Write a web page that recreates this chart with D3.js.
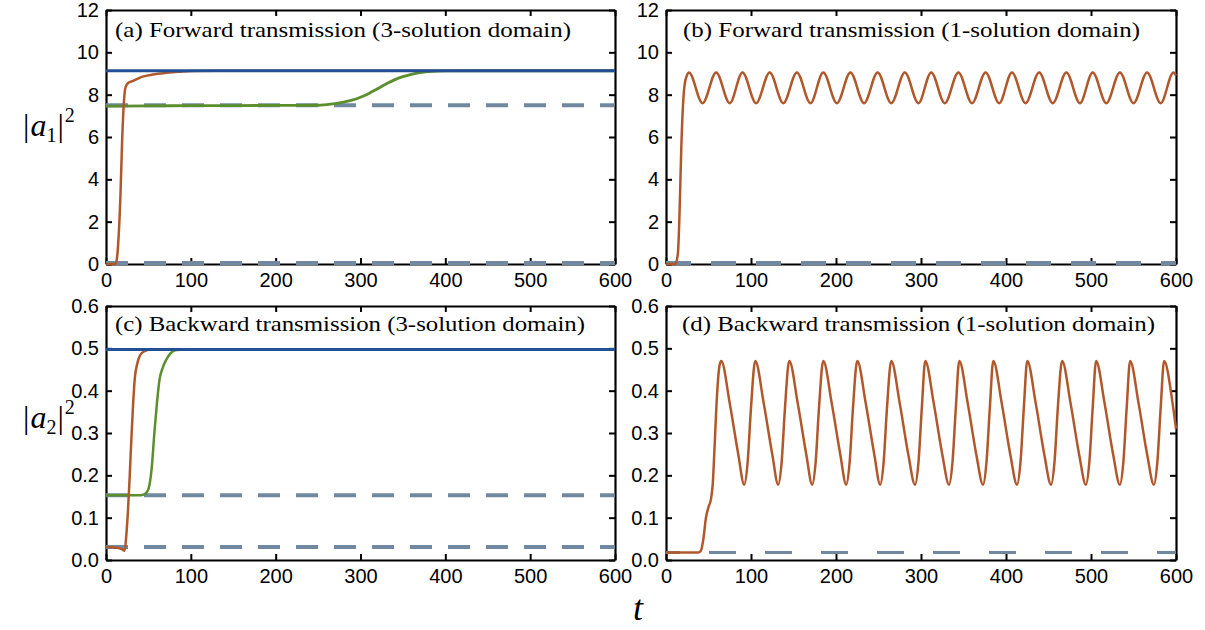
<!DOCTYPE html>
<html><head><meta charset="utf-8">
<script src="https://cdn.jsdelivr.net/npm/d3@7"></script>
<style>body{margin:0;background:#fff}</style>
</head><body>
<svg id="chart" width="1205" height="630"></svg>
<script>
// ---------- shared axis data ----------
const tTicks = [0, 100, 200, 300, 400, 500, 600];
const yTicksForward = [0, 2, 4, 6, 8, 10, 12];
const yTicksBackward = [0, 0.1, 0.2, 0.3, 0.4, 0.5, 0.6];
const titles = [
  "(a) Forward transmission (3-solution domain)",
  "(b) Forward transmission (1-solution domain)",
  "(c) Backward transmission (3-solution domain)",
  "(d) Backward transmission (1-solution domain)"
];

// ---------- panel (a) ----------
const aBlue = [[0, 9.13], [600, 9.13]];
const aDashHigh = [[0, 7.5], [600, 7.5]];
const aDashLow = [[0, 0.05], [600, 0.05]];
const aOrange = [[0,0],[11,0],[13,0.3],[15,1.4],[17,3.2],[19,5.8],[21,7.6],[23,8.35],[26,8.55],[32,8.65],[43,8.85],[55,8.95],[71,9.03],[85,9.08],[102,9.12],[130,9.13],[600,9.13]];
const aGreen = [[0,7.46],[50,7.47],[100,7.48],[200,7.49],[250,7.5],[265,7.55],[280,7.65],[290,7.74],[300,7.88],[310,8.06],[320,8.28],[330,8.5],[340,8.7],[350,8.85],[360,8.96],[370,9.04],[385,9.1],[400,9.12],[430,9.13],[600,9.13]];

// ---------- panel (b) ----------
const bDash = [[0, 0.05], [600, 0.05]];
const bOrange = [[0,0],[11,0],[14,0.5],[16,2.5],[18,5.5],[20,7.5],[22,8.5],[25,8.95],[27,9.05],[43,7.6],[59,9.05],[75,7.6],[90,9.05],[106,7.6],[122,9.05],[138,7.6],[154,9.05],[170,7.6],[185,9.05],[201,7.6],[217,9.05],[233,7.6],[249,9.05],[265,7.6],[281,9.05],[297,7.6],[312,9.05],[328,7.6],[344,9.05],[360,7.6],[376,9.05],[392,7.6],[407,9.05],[423,7.6],[439,9.05],[455,7.6],[471,9.05],[487,7.6],[502,9.05],[518,7.6],[534,9.05],[550,7.6],[566,9.05],[582,7.6],[597,9.05],[600,8.9]];

// ---------- panel (c) ----------
const cBlue = [[0, 0.497], [600, 0.497]];
const cDashHigh = [[0, 0.153], [600, 0.153]];
const cDashLow = [[0, 0.031], [600, 0.031]];
const cOrange = [[0,0.031],[8,0.03],[15,0.028],[19,0.025],[22,0.022],[24,0.06],[26,0.12],[28,0.2],[30,0.29],[32,0.37],[34,0.43],[37,0.465],[40,0.483],[45,0.493],[52,0.497],[600,0.497]];
const cGreen = [[0,0.153],[40,0.153],[45,0.155],[48,0.16],[51,0.175],[54,0.22],[57,0.3],[60,0.37],[63,0.425],[67,0.455],[71,0.473],[76,0.488],[83,0.496],[95,0.497],[600,0.497]];

// ---------- panel (d) ----------
const dDash = [[0, 0.018], [600, 0.018]];
const dOrange = [[0,0.018],[38,0.018],[41,0.022],[44,0.05],[47,0.1],[50,0.125],[53,0.145],[55,0.18],[57,0.26],[59,0.35],[61,0.42],[63,0.46],
  [65,0.47],[75,0.37],[85,0.25],[92,0.178],[96,0.23],[100,0.36],
  [105,0.47],[115,0.37],[125,0.25],[132,0.178],[136,0.23],[140,0.36],
  [145,0.47],[155,0.37],[165,0.25],[172,0.178],[176,0.23],[180,0.36],
  [185,0.47],[195,0.37],[205,0.25],[212,0.178],[216,0.23],[220,0.36],
  [225,0.47],[235,0.37],[245,0.25],[252,0.178],[256,0.23],[260,0.36],
  [265,0.47],[275,0.37],[285,0.25],[293,0.178],[297,0.23],[301,0.36],
  [305,0.47],[315,0.37],[325,0.25],[333,0.178],[337,0.23],[341,0.36],
  [345,0.47],[355,0.37],[365,0.25],[373,0.178],[377,0.23],[381,0.36],
  [385,0.47],[395,0.37],[405,0.25],[413,0.178],[417,0.23],[421,0.36],
  [425,0.47],[435,0.37],[445,0.25],[453,0.178],[457,0.23],[461,0.36],
  [466,0.47],[476,0.37],[486,0.25],[494,0.178],[498,0.23],[502,0.36],
  [506,0.47],[516,0.37],[526,0.25],[534,0.178],[538,0.23],[542,0.36],
  [546,0.47],[556,0.37],[566,0.25],[574,0.178],[578,0.23],[582,0.36],
  [586,0.47],[596,0.37],[600,0.31]];

// ---------- styles ----------
const BLUE = "#234f96", ORANGE = "#b0582c", GREEN = "#5b8e2c", GRAY = "#7189a0";

const svg = d3.select("#chart");

function panel(cfg) {
  const x = d3.scaleLinear().domain([0, 600]).range([cfg.left, cfg.right]);
  const y = d3.scaleLinear().domain(cfg.yDomain).range([cfg.bottom, cfg.top]);
  const g = svg.append("g");
  const fmt = cfg.yFmt;

  const axB = g.append("g").attr("transform", `translate(0,${cfg.bottom})`)
    .call(d3.axisBottom(x).tickValues(tTicks).tickSize(-6).tickSizeOuter(0).tickPadding(9).tickFormat(d3.format("d")));
  const axT = g.append("g").attr("transform", `translate(0,${cfg.top})`)
    .call(d3.axisTop(x).tickValues(tTicks).tickSize(-6).tickSizeOuter(0).tickFormat(""));
  const axL = g.append("g").attr("transform", `translate(${cfg.left},0)`)
    .call(d3.axisLeft(y).tickValues(cfg.yTicks).tickSize(-6).tickSizeOuter(0).tickPadding(7).tickFormat(fmt));
  const axR = g.append("g").attr("transform", `translate(${cfg.right},0)`)
    .call(d3.axisRight(y).tickValues(cfg.yTicks).tickSize(-6).tickSizeOuter(0).tickFormat(""));
  [axB, axT, axL, axR].forEach(a => {
    a.select(".domain").attr("stroke", "#000").attr("stroke-width", 2.2);
    a.selectAll(".tick line").attr("stroke", "#000").attr("stroke-width", 2);
    a.selectAll("text").attr("font-family", "'Liberation Sans', Arial, sans-serif").attr("font-size", 20).attr("fill", "#000");
  });

  const line = d3.line().x(d => x(d[0])).y(d => y(d[1])).curve(d3.curveMonotoneX);
  cfg.series.forEach(s => {
    const p = g.append("path").datum(s.data).attr("d", line)
      .attr("fill", "none").attr("stroke", s.color).attr("stroke-width", s.width)
      .attr("stroke-linejoin", "round");
    if (s.dash) p.attr("stroke-dasharray", s.dash).attr("stroke-dashoffset", s.offset || 0);
  });

  g.append("text").attr("x", cfg.left + cfg.titleDx).attr("y", cfg.titleY)
    .attr("font-family", "'Liberation Serif', 'Times New Roman', serif").attr("font-size", 21)
    .attr("textLength", cfg.titleW).attr("lengthAdjust", "spacingAndGlyphs")
    .text(cfg.title);
}

panel({left:106, right:615, top:10, bottom:264, yDomain:[0,12], yTicks:yTicksForward, yFmt:d3.format("d"),
  title:titles[0], titleDx:9, titleY:37, titleW:456,
  series:[
    {data:aDashHigh, color:GRAY, width:4, dash:"22 16"},
    {data:aDashLow, color:GRAY, width:4, dash:"22 16"},
    {data:aGreen, color:GREEN, width:2.8},
    {data:aOrange, color:ORANGE, width:2.5},
    {data:aBlue, color:BLUE, width:3}
  ]});

panel({left:666, right:1176, top:10, bottom:264, yDomain:[0,12], yTicks:yTicksForward, yFmt:d3.format("d"),
  title:titles[1], titleDx:17, titleY:37, titleW:457,
  series:[
    {data:bDash, color:GRAY, width:4, dash:"25 20"},
    {data:bOrange, color:ORANGE, width:2.5}
  ]});

panel({left:106, right:615, top:306, bottom:560, yDomain:[0,0.6], yTicks:yTicksBackward, yFmt:d3.format(".1f"),
  title:titles[2], titleDx:9, titleY:331, titleW:470,
  series:[
    {data:cDashHigh, color:GRAY, width:4, dash:"22 16"},
    {data:cDashLow, color:GRAY, width:4, dash:"22 16"},
    {data:cGreen, color:GREEN, width:2.5},
    {data:cOrange, color:ORANGE, width:2.5},
    {data:cBlue, color:BLUE, width:3}
  ]});

panel({left:666, right:1176, top:306, bottom:560, yDomain:[0,0.6], yTicks:yTicksBackward, yFmt:d3.format(".1f"),
  title:titles[3], titleDx:16, titleY:331, titleW:473,
  series:[
    {data:dDash, color:GRAY, width:3, dash:"27 29", offset:13},
    {data:dOrange, color:ORANGE, width:2.5}
  ]});

// ---------- axis labels ----------
function ylab(x, yb, sub) {
  const t = svg.append("text").attr("x", x).attr("y", yb)
    .attr("font-family", "'Liberation Serif', 'Times New Roman', serif").attr("font-size", 32).attr("fill", "#000");
  t.append("tspan").text("|");
  t.append("tspan").attr("font-style", "italic").attr("dx", 1).text("a");
  t.append("tspan").attr("font-size", 20).attr("dy", 6).text(sub);
  t.append("tspan").attr("dy", -6).attr("dx", 1).text("|");
  t.append("tspan").attr("font-size", 20).attr("dy", -14).attr("dx", 1).text("2");
}
ylab(23, 136, "1");
ylab(23, 428, "2");

svg.append("text").attr("x", 638).attr("y", 620).attr("text-anchor", "middle")
  .attr("font-family", "'Liberation Serif', 'Times New Roman', serif").attr("font-style", "italic")
  .attr("font-size", 36).text("t");
</script>
</body></html>
